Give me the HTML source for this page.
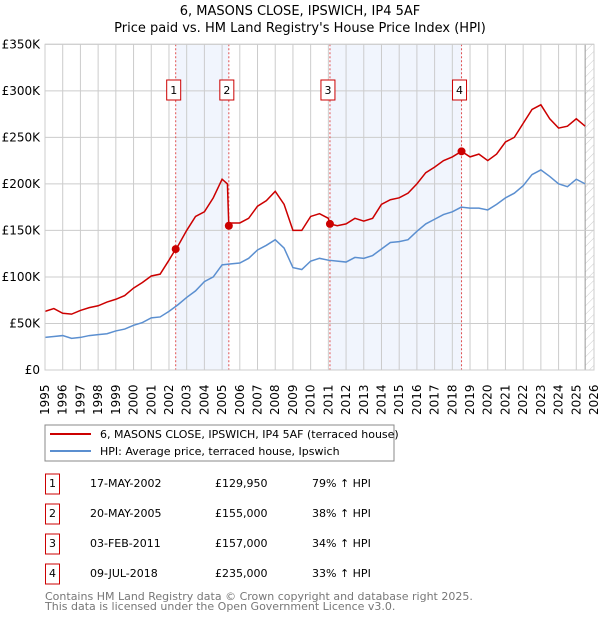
<!DOCTYPE html>
<html><head><meta charset="utf-8"><style>
body{margin:0;background:#fff;}
svg text{font-family:"DejaVu Sans","Liberation Sans",sans-serif;}
</style></head><body>
<svg id="c" width="600" height="620" viewBox="0 0 600 620" xmlns="http://www.w3.org/2000/svg">
<text x="300" y="15" text-anchor="middle" font-size="13">6, MASONS CLOSE, IPSWICH, IP4 5AF</text>
<text x="300" y="32" text-anchor="middle" font-size="13">Price paid vs. HM Land Registry's House Price Index (HPI)</text>
<defs><pattern id="hatch" width="6" height="6" patternUnits="userSpaceOnUse" patternTransform="rotate(45)"><line x1="0" y1="0" x2="0" y2="6" stroke="#ccc" stroke-width="1"/></pattern></defs>
<g id="plot"></g>
<rect x="45" y="425" width="349" height="36" fill="#fff" stroke="#888"/>
<line x1="50" y1="434" x2="91" y2="434" stroke="#cc0000" stroke-width="2"/>
<text x="100" y="438" font-size="11">6, MASONS CLOSE, IPSWICH, IP4 5AF (terraced house)</text>
<line x1="50" y1="451" x2="91" y2="451" stroke="#5b8fd0" stroke-width="2"/>
<text x="100" y="455" font-size="11">HPI: Average price, terraced house, Ipswich</text>
<g id="table" font-size="11"></g>
<text x="45" y="600" font-size="11" fill="#777">Contains HM Land Registry data © Crown copyright and database right 2025.</text>
<text x="45" y="610" font-size="11" fill="#777">This data is licensed under the Open Government Licence v3.0.</text>
</svg>
<script>
const hpiYears=[1995,1995.5,1996,1996.5,1997,1997.5,1998,1998.5,1999,1999.5,2000,2000.5,2001,2001.5,2002,2002.5,2003,2003.5,2004,2004.5,2005,2005.5,2006,2006.5,2007,2007.5,2008,2008.5,2009,2009.5,2010,2010.5,2011,2011.5,2012,2012.5,2013,2013.5,2014,2014.5,2015,2015.5,2016,2016.5,2017,2017.5,2018,2018.5,2019,2019.5,2020,2020.5,2021,2021.5,2022,2022.5,2023,2023.5,2024,2024.5,2025,2025.5];
const hpiValues=[35,36,37,34,35,37,38,39,42,44,48,51,56,57,63,70,78,85,95,100,113,114,115,120,129,134,140,131,110,108,117,120,118,117,116,121,120,123,130,137,138,140,149,157,162,167,170,175,174,174,172,178,185,190,198,210,215,208,200,197,205,200];
const priceYears=[1995,1995.5,1996,1996.5,1997,1997.5,1998,1998.5,1999,1999.5,2000,2000.5,2001,2001.5,2002,2002.38,2002.5,2003,2003.5,2004,2004.5,2005,2005.3,2005.38,2005.5,2006,2006.5,2007,2007.5,2008,2008.5,2009,2009.5,2010,2010.5,2011,2011.09,2011.5,2012,2012.5,2013,2013.5,2014,2014.5,2015,2015.5,2016,2016.5,2017,2017.5,2018,2018.52,2019,2019.5,2020,2020.5,2021,2021.5,2022,2022.5,2023,2023.5,2024,2024.5,2025,2025.5];
const priceValues=[63,66,61,60,64,67,69,73,76,80,88,94,101,103,118,130,133,150,165,170,185,205,200,155,158,158,163,176,182,192,178,150,150,165,168,163,157,155,157,163,160,163,178,183,185,190,200,212,218,225,229,235,229,232,225,232,245,250,265,280,285,270,260,262,270,262];
const saleLabels=["1","2","3","4"];
const saleYears=[2002.38,2005.38,2011.09,2018.52];
const salePrices=[129.95,155,157,235];
const saleDates=["17-MAY-2002","20-MAY-2005","03-FEB-2011"," 09-JUL-2018"];
const salePriceText=["£129,950","£155,000","£157,000","£235,000"];
const saleHpiText=["79% ↑ HPI","38% ↑ HPI","34% ↑ HPI","33% ↑ HPI"];
const yTicks=[0,50,100,150,200,250,300,350];
const yTickLabels=["£0","£50K","£100K","£150K","£200K","£250K","£300K","£350K"];
const xTicks=[1995,1996,1997,1998,1999,2000,2001,2002,2003,2004,2005,2006,2007,2008,2009,2010,2011,2012,2013,2014,2015,2016,2017,2018,2019,2020,2021,2022,2023,2024,2025,2026];

const NS="http://www.w3.org/2000/svg";
const L=45,R=594,T=44.3,B=370;
const xs=y=>L+(y-1995)/(2026-1995)*(R-L);
const ys=v=>B-v/350*(B-T);
const g=document.getElementById('plot');
function mk(tag,attrs,parent){const e=document.createElementNS(NS,tag);for(const k in attrs)e.setAttribute(k,attrs[k]);(parent||g).appendChild(e);return e;}
for(let i=0;i<saleYears.length;i+=2){
  const r=mk('rect',{x:xs(saleYears[i]),y:T,width:xs(saleYears[i+1])-xs(saleYears[i]),height:B-T,fill:'#eef3fc',opacity:0.8});
  
  
}
const h=mk('rect',{x:xs(2025.5),y:T,width:R-xs(2025.5),height:B-T,fill:'url(#hatch)'});


mk('line',{x1:xs(2025.5),y1:T,x2:xs(2025.5),y2:B,stroke:'#999'});
xTicks.forEach(t=>{const l=mk('line',{x1:xs(t),y1:T,x2:xs(t),y2:B,stroke:'#ccc'});


const tx=mk('text',{x:0,y:0,'font-size':12,transform:`translate(${xs(t)+4},415) rotate(-90)`});tx.textContent=t;

});
yTicks.forEach((t,i)=>{const l=mk('line',{x1:L,y1:ys(t),x2:R,y2:ys(t),stroke:'#ccc'});


const tx=mk('text',{x:40,y:ys(t)+4,'font-size':12,'text-anchor':'end'});tx.textContent=yTickLabels[i];

});
saleYears.forEach((s,i)=>{const l=mk('line',{x1:xs(s),y1:T,x2:xs(s),y2:B,stroke:'#e05050','stroke-dasharray':'2,2'});

});
const hp=mk('polyline',{points:hpiYears.map((y,i)=>xs(y)+','+ys(hpiValues[i])).join(' '),fill:'none',stroke:'#5b8fd0','stroke-width':1.5});


const pp=mk('polyline',{points:priceYears.map((y,i)=>xs(y)+','+ys(priceValues[i])).join(' '),fill:'none',stroke:'#cc0000','stroke-width':1.5});


saleYears.forEach((s,i)=>{
  const c=mk('circle',{cx:xs(s),cy:ys(salePrices[i]),r:4,fill:'#cc0000'});
  
  
  const bx=mk('rect',{x:xs(s)-9,y:80,width:14,height:20,fill:'#fff',stroke:'#cc0000'});
  
  
  const t=mk('text',{x:xs(s)-2,y:94,'font-size':11,'text-anchor':'middle'});t.textContent=saleLabels[i];
  
  
});
mk('rect',{x:L,y:T,width:R-L,height:B-T,fill:'none',stroke:'#ccc'});
const tb=document.getElementById('table');
saleLabels.forEach((lab,i)=>{
  const cy=483+i*30;
  const b=mk('rect',{x:45.5,y:cy-9,width:14,height:20,fill:'#fff',stroke:'#cc0000'},tb);
  
  
  const vals=[[52.5,lab,'middle'],[90,saleDates[i],'start'],[215,salePriceText[i],'start'],[312,saleHpiText[i],'start']];
  vals.forEach(v=>{const t=mk('text',{x:v[0],y:cy+4,'font-size':11,'text-anchor':v[2]},tb);t.textContent=v[1];t.setAttribute('xml:space','preserve');
  
  });
});
</script>
</body></html>
